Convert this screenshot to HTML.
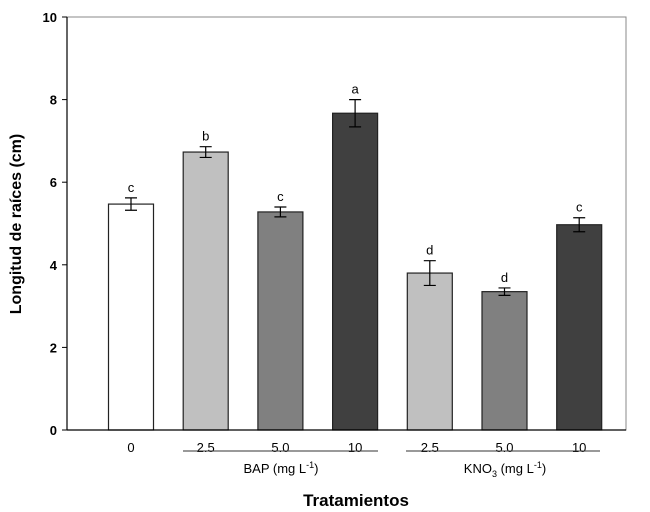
<!DOCTYPE html>
<html><head><meta charset="utf-8"><style>body{margin:0;background:#fff}svg{display:block;font-family:"Liberation Sans",Arial,sans-serif}</style></head>
<body>
<svg id="c" width="650" height="512" viewBox="0 0 650 512"></svg>
<script>
const categories=["0","2.5","5.0","10","2.5","5.0","10"];
const values=[5.47,6.73,5.28,7.67,3.80,3.35,4.97];
const errors=[0.15,0.13,0.12,0.33,0.30,0.09,0.17];
const letters=["c","b","c","a","d","d","c"];
const fills=["#ffffff","#c0c0c0","#808080","#404040","#c0c0c0","#808080","#404040"];
const yTicks=[0,2,4,6,8,10];
const NS="http://www.w3.org/2000/svg";
const svg=document.getElementById('c');
const L=67,R=626,T=17,B=430;
const y=v=>B-(v/10)*(B-T);
const x=i=>131+i*74.7;
const BW=45;
function mk(t,a,txt){const e=document.createElementNS(NS,t);for(const k in a)e.setAttribute(k,a[k]);if(txt!=null)e.textContent=txt;svg.appendChild(e);return e;}
let e;
e=mk('rect',{x:L,y:T,width:R-L,height:B-T,fill:'none',stroke:'#888','stroke-width':1});

yTicks.forEach(t=>{
 e=mk('line',{x1:L-5,x2:L,y1:y(t),y2:y(t),stroke:'#000'});
 
 e=mk('text',{x:L-10,y:y(t)+5,'text-anchor':'end','font-size':13,'font-weight':'bold'},String(t));
 
});
values.forEach((v,i)=>{
 const cx=x(i);
 e=mk('rect',{x:cx-BW/2,y:y(v),width:BW,height:B-y(v),fill:fills[i],stroke:'#222','stroke-width':1.2});
 
 const hi=y(v+errors[i]),lo=y(v-errors[i]);
 e=mk('path',{d:`M${cx},${hi}V${lo}M${cx-6},${hi}H${cx+6}M${cx-6},${lo}H${cx+6}`,stroke:'#000','stroke-width':1.2,fill:'none'});
 
 e=mk('text',{x:cx,y:hi-6,'text-anchor':'middle','font-size':13},letters[i]);
 
 e=mk('text',{x:cx,y:B+22,'text-anchor':'middle','font-size':13},categories[i]);
 
});
e=mk('line',{x1:L,x2:R,y1:B,y2:B,stroke:'#000','stroke-width':1.2});

e=mk('line',{x1:L,x2:L,y1:T,y2:B,stroke:'#000','stroke-width':1.2});

e=mk('line',{x1:183,x2:378,y1:451,y2:451,stroke:'#333'});

e=mk('line',{x1:406,x2:600,y1:451,y2:451,stroke:'#333'});

</script>
<svg width="650" height="512" style="position:absolute;left:0;top:0;font-family:'Liberation Sans',Arial,sans-serif">
<text x="281" y="473" text-anchor="middle" font-size="13">BAP (mg L<tspan dy="-5" font-size="9">-1</tspan><tspan dy="5">)</tspan></text>
<text x="505" y="473" text-anchor="middle" font-size="13">KNO<tspan dy="4" font-size="9">3</tspan><tspan dy="-4"> (mg L</tspan><tspan dy="-5" font-size="9">-1</tspan><tspan dy="5">)</tspan></text>
<text x="356" y="506" text-anchor="middle" font-size="17" font-weight="bold">Tratamientos</text>
<text transform="translate(21,224) rotate(-90)" text-anchor="middle" font-size="16" font-weight="bold">Longitud de raíces (cm)</text>
</svg>
</body></html>
